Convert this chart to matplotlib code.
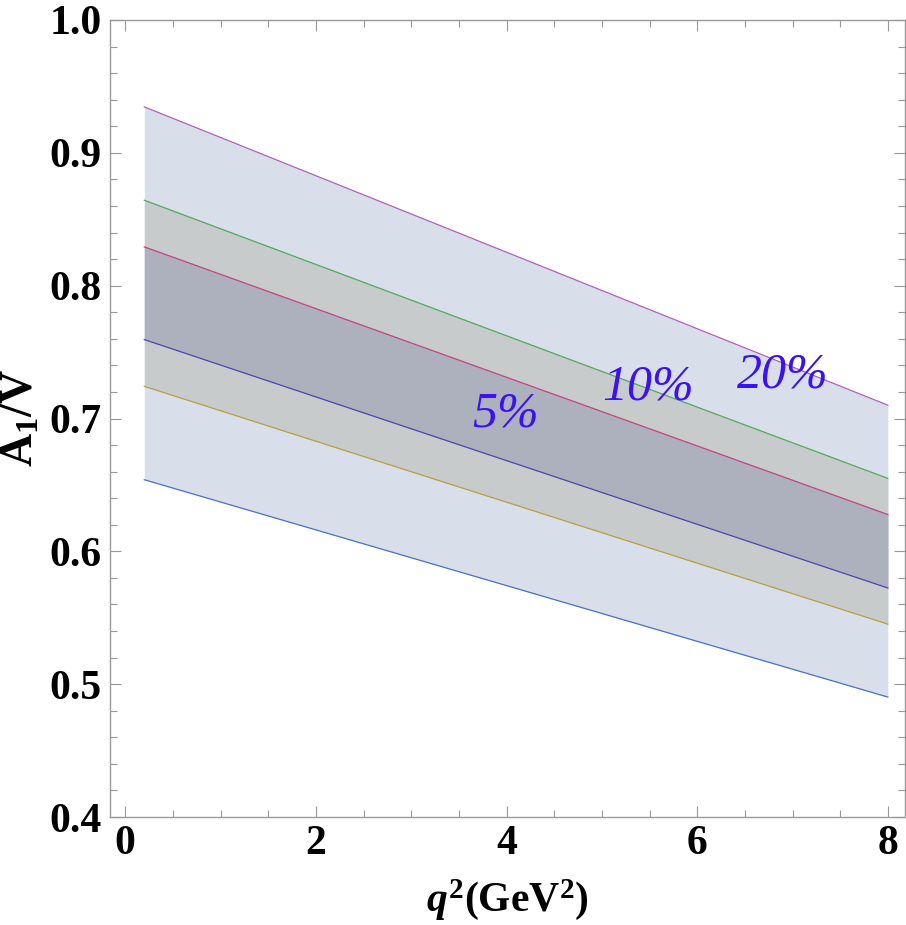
import matplotlib
matplotlib.use("Agg")
import matplotlib.pyplot as plt
from matplotlib.ticker import MultipleLocator

plt.rcParams['font.family'] = ['Liberation Serif', 'DejaVu Serif']
plt.rcParams['mathtext.fontset'] = 'custom'
plt.rcParams['mathtext.rm'] = 'Liberation Serif:bold'
plt.rcParams['mathtext.bf'] = 'Liberation Serif:bold'
plt.rcParams['mathtext.it'] = 'Liberation Serif:italic:bold'

# data
q2 = [0.2, 8.0]
upper20 = [0.9346, 0.7100]
upper10 = [0.8643, 0.6549]
upper5 = [0.8292, 0.6277]
lower5 = [0.7594, 0.5724]
lower10 = [0.7242, 0.5452]
lower20 = [0.6539, 0.4903]

band_labels = ["5%", "10%", "20%"]
label_x = [3.99, 5.48, 6.90]
label_y = [0.7035, 0.7235, 0.7325]

xticks = [0, 2, 4, 6, 8]
yticks = [0.4, 0.5, 0.6, 0.7, 0.8, 0.9, 1.0]

fig = plt.figure(figsize=(9.06, 9.25), dpi=100)
ax = fig.add_axes([110/906, 1-817/925, 795/906, 797/925])

ax.fill_between(q2, lower20, upper20, color='#d9dfea', lw=0, zorder=1)
ax.fill_between(q2, lower10, upper10, color='#c8cbcc', lw=0, zorder=2)
ax.fill_between(q2, lower5, upper5, color='#adb1bd', lw=0, zorder=3)

ax.plot(q2, upper20, color='#b160b8', lw=0.9, zorder=5)
ax.plot(q2, upper10, color='#4faa5a', lw=0.9, zorder=5)
ax.plot(q2, upper5, color='#c8407a', lw=0.9, zorder=5)
ax.plot(q2, lower5, color='#4848b0', lw=0.9, zorder=5)
ax.plot(q2, lower10, color='#b8a040', lw=0.9, zorder=5)
ax.plot(q2, lower20, color='#4a70c8', lw=0.9, zorder=5)

for t, x, y in zip(band_labels, label_x, label_y):
    ax.text(x, y, t, fontsize=36, style='italic', color='#3a12f4',
            ha='center', va='center', zorder=6)

ax.set_xlim(-0.16, 8.18)
ax.set_ylim(0.4, 1.0)
ax.set_xticks(xticks)
ax.set_yticks(yticks)
ax.set_xticklabels([str(v) for v in xticks])
ax.set_yticklabels([f"{v:.1f}" for v in yticks])
ax.xaxis.set_minor_locator(MultipleLocator(0.5))
ax.yaxis.set_minor_locator(MultipleLocator(0.02))

for s in ax.spines.values():
    s.set_color('#999999')
    s.set_linewidth(1.0)

ax.tick_params(which='both', direction='in', top=True, right=True, color='#999999', width=0.8)
ax.tick_params(which='major', length=8, labelsize=30, pad=6)
ax.tick_params(which='minor', length=5)
for lab in ax.get_xticklabels() + ax.get_yticklabels():
    lab.set_fontweight('bold')

ax.set_xlabel(r'$\mathit{q}^{2}\mathrm{(GeV}^{2}\mathrm{)}$', fontsize=30, labelpad=10)
ax.set_ylabel(r'$\mathrm{A}_{1}\mathrm{/V}$', fontsize=33, labelpad=5)

fig.savefig('out.png', dpi=100)
